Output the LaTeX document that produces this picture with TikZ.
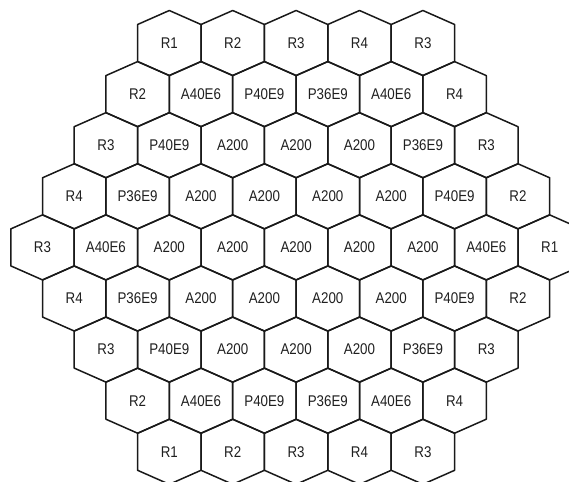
\documentclass[tikz,border=0pt]{standalone}
\usepackage{fontspec}
\setmainfont{Liberation Sans}
\begin{document}
\begin{tikzpicture}[x=1pt,y=-1pt,
  hexline/.style={line width=1.5pt, line join=round, draw=black!90},
  lab/.style={font=\fontsize{15.5}{15.5}\selectfont, xscale=0.86, inner sep=0pt, text=black!88}]
\useasboundingbox (0,0) rectangle (569,481);
\clip (0,0) rectangle (569,481);
\def\hw{31.7}
\foreach \labels [count=\row from 0] in {
  {R1,R2,R3,R4,R3},
  {R2,A40E6,P40E9,P36E9,A40E6,R4},
  {R3,P40E9,A200,A200,A200,P36E9,R3},
  {R4,P36E9,A200,A200,A200,A200,P40E9,R2},
  {R3,A40E6,A200,A200,A200,A200,A200,A40E6,R1},
  {R4,P36E9,A200,A200,A200,A200,P40E9,R2},
  {R3,P40E9,A200,A200,A200,P36E9,R3},
  {R2,A40E6,P40E9,P36E9,A40E6,R4},
  {R1,R2,R3,R4,R3}} {
  \pgfmathsetmacro\d{4-abs(\row-4)}
  \pgfmathsetmacro\yc{43+51.1*\row}
  \foreach \t [count=\i from 0] in \labels {
    \pgfmathsetmacro\xc{169.3-31.7*\d+63.4*\i}
    \draw[hexline] (\xc,\yc) ++(0,-32.5) -- ++(\hw,14) -- ++(0,37) -- ++(-\hw,14) -- ++(-\hw,-14) -- ++(0,-37) -- cycle;
    \node[lab] (h-\row-\i) at (\xc,\yc) {\t};
  }
}
\end{tikzpicture}
\end{document}
